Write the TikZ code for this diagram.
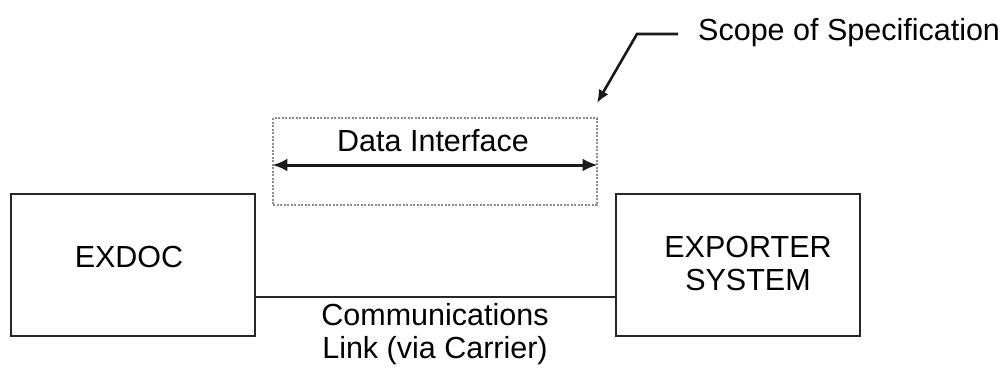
\documentclass[tikz,border=0pt]{standalone}
\usepackage{fontspec}
\setmainfont{Liberation Sans}
\usetikzlibrary{arrows.meta}
\begin{document}
\begin{tikzpicture}[x=1pt,y=-1pt,
  every node/.style={font=\fontsize{30.5}{33}\selectfont, inner sep=0pt},
  sysbox/.style={draw=black!85, line width=2.4pt, minimum width=244pt, minimum height=142pt, align=center},
  scopebox/.style={draw=black!45, line width=1.1pt, dash pattern=on 2pt off 1.5pt, minimum width=324pt, minimum height=87pt},
  conn/.style={draw=black!85, line width=2.4pt},
  bigarrow/.style={draw=black!90, line width=3pt, {Latex[length=15pt,width=13pt]}-{Latex[length=15pt,width=13pt]}},
  callout/.style={draw=black!90, line width=2.6pt, -{Latex[length=13pt,width=11pt]}}]
\useasboundingbox (0,0) rectangle (1008,367);
\node[sysbox] (exdoc) at (133,265) {};
\node (exdoclbl) at (129,257) {EXDOC};
\node[sysbox] (exp) at (738,265) {};
\node[align=center] (explbl) at (748,263) {EXPORTER\\SYSTEM};
\draw[conn] ([yshift=-32pt]exdoc.east) -- ([yshift=-32pt]exp.west);
\node[align=center] (link) at (435,334) {Communications\\Link (via Carrier)};
\node[scopebox] (di) at (435,161.5) {};
\node (dilbl) at (433,141) {Data Interface};
\draw[bigarrow] ([yshift=-3.5pt]di.west) -- ([yshift=-3.5pt]di.east);
\node[anchor=west] (scope) at (698,33) {Scope of Specification};
\coordinate (s1) at (678,34);
\coordinate (s2) at (637,34);
\coordinate (s3) at (597,103);
\draw[callout] (s1) -- (s2) -- (s3);
\end{tikzpicture}
\end{document}
